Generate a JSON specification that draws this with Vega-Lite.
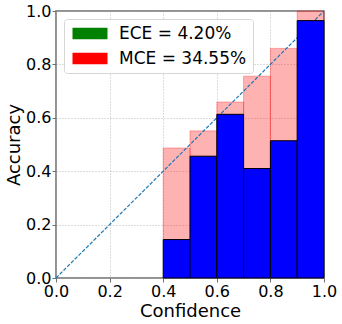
{
  "$schema": "https://vega.github.io/schema/vega-lite/v6.json",
  "autosize": {"type": "none"},
  "padding": {"left": 56, "top": 11, "right": 18, "bottom": 46},
  "width": 268,
  "height": 267,
  "config": {
    "font": "DejaVu Sans",
    "view": {"stroke": "#6e6e6e", "strokeWidth": 1.5},
    "axis": {
      "labelFont": "DejaVu Sans",
      "labelFontSize": 16,
      "labelColor": "black",
      "titleFont": "DejaVu Sans",
      "titleFontSize": 18,
      "titleFontWeight": "normal",
      "titleColor": "black",
      "domain": false,
      "tickColor": "#6e6e6e",
      "tickSize": 4,
      "labelPadding": 1,
      "gridColor": "#a8a8a8",
      "gridDash": [1, 2],
      "gridWidth": 0.8
    }
  },
  "datasets": {
    "bins": [
      {"lo": 0.4, "hi": 0.5, "acc": 0.144, "conf": 0.487},
      {"lo": 0.5, "hi": 0.6, "acc": 0.456, "conf": 0.551},
      {"lo": 0.6, "hi": 0.7, "acc": 0.613, "conf": 0.659},
      {"lo": 0.7, "hi": 0.8, "acc": 0.410, "conf": 0.756},
      {"lo": 0.8, "hi": 0.9, "acc": 0.514, "conf": 0.860},
      {"lo": 0.9, "hi": 1.0, "acc": 0.964, "conf": 1.0}
    ],
    "diag": [
      {"v": 0},
      {"v": 1}
    ],
    "metrics": [
      {"metric": "ECE = 4.20%"},
      {"metric": "MCE = 34.55%"}
    ]
  },
  "layer": [
    {
      "data": {"name": "bins"},
      "mark": {"type": "rect", "fill": "red", "fillOpacity": 0.3, "stroke": "red", "strokeOpacity": 0.3, "strokeWidth": 1},
      "encoding": {
        "x": {"field": "lo", "type": "quantitative", "scale": {"domain": [0, 1], "nice": false},
          "axis": {"values": [0, 0.2, 0.4, 0.6, 0.8, 1.0], "format": ".1f", "title": "Confidence", "titlePadding": 3, "labelFlush": false}},
        "x2": {"field": "hi"},
        "y": {"field": "acc", "type": "quantitative", "scale": {"domain": [0, 1], "nice": false},
          "axis": {"values": [0, 0.2, 0.4, 0.6, 0.8, 1.0], "format": ".1f", "title": "Accuracy", "titlePadding": 2, "labelFlush": false}},
        "y2": {"field": "conf"}
      }
    },
    {
      "data": {"name": "diag"},
      "mark": {"type": "line", "color": "#1f77b4", "strokeWidth": 1.2, "strokeDash": [3.7, 1.6]},
      "encoding": {
        "x": {"field": "v", "type": "quantitative"},
        "y": {"field": "v", "type": "quantitative"}
      }
    },
    {
      "data": {"name": "bins"},
      "mark": {"type": "rect", "fill": "#0000ff", "stroke": "black", "strokeWidth": 1},
      "encoding": {
        "x": {"field": "lo", "type": "quantitative"},
        "x2": {"field": "hi"},
        "y": {"field": "acc", "type": "quantitative"},
        "y2": {"datum": 0}
      }
    },
    {
      "data": {"name": "metrics"},
      "mark": {"type": "point", "filled": true, "opacity": 0},
      "encoding": {
        "color": {
          "field": "metric", "type": "nominal",
          "scale": {"domain": ["ECE = 4.20%", "MCE = 34.55%"], "range": ["green", "red"]},
          "legend": {
            "title": null,
            "orient": "top-left",
            "offset": 8,
            "fillColor": "white",
            "strokeColor": "#d6d6d6",
            "cornerRadius": 3,
            "padding": 6,
            "symbolType": "M-1,-0.975H4.833V0.975H-1Z",
            "symbolSize": 144,
            "symbolOpacity": 1,
            "symbolStrokeWidth": 0,
            "labelOffset": 32,
            "labelFont": "DejaVu Sans",
            "labelFontSize": 17,
            "labelColor": "black",
            "labelLimit": 300,
            "rowPadding": 7
          }
        }
      }
    }
  ]
}
